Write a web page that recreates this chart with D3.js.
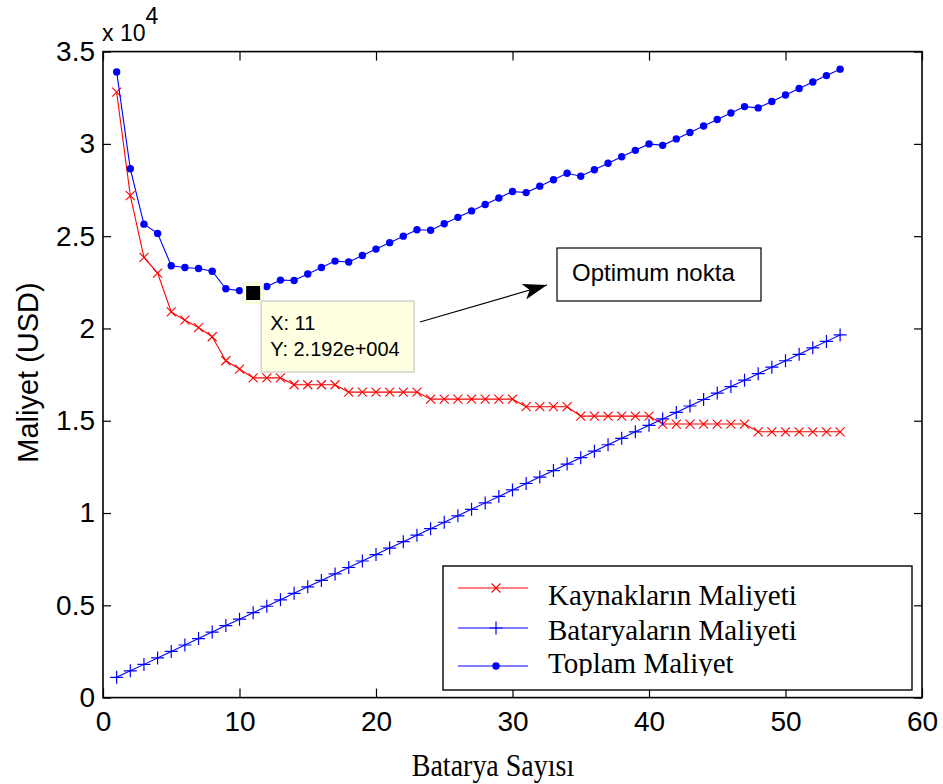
<!DOCTYPE html>
<html>
<head>
<meta charset="utf-8">
<script src="https://cdn.jsdelivr.net/npm/d3@7"></script>
<style>
  html, body { margin: 0; padding: 0; background: #fff; }
  svg { display: block; }
  .sans { font-family: "Liberation Sans", Arial, Helvetica, sans-serif; }
  .serif { font-family: "Liberation Serif", "Times New Roman", serif; }
</style>
</head>
<body>
<svg id="chart" width="943" height="784"></svg>
<script>
// Number of batteries (x axis)
const bataryaSayisi = [
   1,  2,  3,  4,  5,  6,  7,  8,  9, 10, 11, 12, 13, 14, 15, 16, 17, 18,
  19, 20, 21, 22, 23, 24, 25, 26, 27, 28, 29, 30, 31, 32, 33, 34, 35, 36,
  37, 38, 39, 40, 41, 42, 43, 44, 45, 46, 47, 48, 49, 50, 51, 52, 53, 54
];

// Cost of the sources (USD)
const kaynaklarinMaliyeti = [
  32800, 27200, 23850, 23000, 20900, 20450, 20050, 19550, 18250, 17800,
  17320, 17320, 17320, 16950, 16950, 16950, 16950, 16550, 16550, 16550,
  16550, 16550, 16550, 16170, 16170, 16170, 16170, 16170, 16170, 16170,
  15760, 15760, 15760, 15760, 15250, 15250, 15250, 15250, 15250, 15250,
  14820, 14820, 14820, 14820, 14820, 14820, 14820, 14400, 14400, 14400,
  14400, 14400, 14400, 14400
];

// Cost of the batteries (USD)
const bataryalarinMaliyeti = [
   1100,  1450,  1800,  2150,  2500,  2850,  3200,  3550,  3900,  4250,
   4600,  4950,  5300,  5650,  6000,  6350,  6700,  7050,  7400,  7750,
   8100,  8450,  8800,  9150,  9500,  9850, 10200, 10550, 10900, 11250,
  11600, 11950, 12300, 12650, 13000, 13350, 13700, 14050, 14400, 14750,
  15100, 15450, 15800, 16150, 16500, 16850, 17200, 17550, 17900, 18250,
  18600, 18950, 19300, 19650
];

// Total cost (USD)
const toplamMaliyet = [
  33900, 28650, 25650, 25150, 23400, 23300, 23250, 23100, 22150, 22050,
  21920, 22270, 22620, 22600, 22950, 23300, 23650, 23600, 23950, 24300,
  24650, 25000, 25350, 25320, 25670, 26020, 26370, 26720, 27070, 27420,
  27360, 27710, 28060, 28410, 28250, 28600, 28950, 29300, 29650, 30000,
  29920, 30270, 30620, 30970, 31320, 31670, 32020, 31950, 32300, 32650,
  33000, 33350, 33700, 34050
];

const xTicks = [0, 10, 20, 30, 40, 50, 60];
const yTicks = [0, 5000, 10000, 15000, 20000, 25000, 30000, 35000];
const yTickLabels = ["0", "0.5", "1", "1.5", "2", "2.5", "3", "3.5"];

const seriesNames = ["Kaynakların Maliyeti", "Bataryaların Maliyeti", "Toplam Maliyet"];

// Data tip on the optimum point
const optimumX = 11;
const optimumY = 21920;
const optimumLabel = "Optimum nokta";

// ---- layout ----
const svg = d3.select("#chart");
const plot = { left: 103, right: 922, top: 51.6, bottom: 697.6 };

const x = d3.scaleLinear().domain([0, 60]).range([plot.left, plot.right]);
const y = d3.scaleLinear().domain([0, 35000]).range([plot.bottom, plot.top]);

const sans = "sans", serif = "serif";

// white plot area
svg.append("rect")
  .attr("x", plot.left).attr("y", plot.top)
  .attr("width", plot.right - plot.left).attr("height", plot.bottom - plot.top)
  .attr("fill", "#fff");

// axes with inward ticks on all four sides
function styleAxis(g) {
  g.select(".domain").remove();
  g.selectAll(".tick line").attr("stroke", "#000").attr("stroke-width", 1.2);
  g.selectAll(".tick text")
    .attr("class", sans)
    .attr("font-size", 28)
    .attr("fill", "#000");
}

svg.append("g")
  .attr("transform", `translate(0,${plot.bottom})`)
  .call(d3.axisBottom(x).tickValues(xTicks).tickSizeInner(-9).tickSizeOuter(0).tickPadding(14))
  .call(styleAxis)
  .call(g => g.selectAll(".tick text").attr("font-family", "Liberation Sans, Arial, sans-serif"));

svg.append("g")
  .attr("transform", `translate(0,${plot.top})`)
  .call(d3.axisTop(x).tickValues(xTicks).tickSizeInner(-9).tickSizeOuter(0).tickFormat(""))
  .call(styleAxis);

svg.append("g")
  .attr("transform", `translate(${plot.left},0)`)
  .call(d3.axisLeft(y).tickValues(yTicks).tickSizeInner(-8).tickSizeOuter(0).tickPadding(8)
    .tickFormat((d, i) => yTickLabels[i]))
  .call(styleAxis)
  .call(g => g.selectAll(".tick text").attr("font-family", "Liberation Sans, Arial, sans-serif"));

svg.append("g")
  .attr("transform", `translate(${plot.right},0)`)
  .call(d3.axisRight(y).tickValues(yTicks).tickSizeInner(-8).tickSizeOuter(0).tickFormat(""))
  .call(styleAxis);

// ---- series ----
const line = d3.line().x(d => x(d[0])).y(d => y(d[1]));
const pairs = vals => bataryaSayisi.map((n, i) => [n, vals[i]]);

const redPts = pairs(kaynaklarinMaliyeti);
const bluePlusPts = pairs(bataryalarinMaliyeti);
const totalPts = pairs(toplamMaliyet);

const crossPath = "M-4.5,-4.5L4.5,4.5M-4.5,4.5L4.5,-4.5";
const plusPath = "M-6.5,0L6.5,0M0,-6.5L0,6.5";

svg.append("path").datum(redPts)
  .attr("d", line).attr("fill", "none").attr("stroke", "#ff0000").attr("stroke-width", 1.1);
svg.append("g").selectAll("path").data(redPts).join("path")
  .attr("transform", d => `translate(${x(d[0])},${y(d[1])})`)
  .attr("d", crossPath).attr("stroke", "#ff0000").attr("stroke-width", 1.1).attr("fill", "none");

svg.append("path").datum(bluePlusPts)
  .attr("d", line).attr("fill", "none").attr("stroke", "#0000ff").attr("stroke-width", 1.1);
svg.append("g").selectAll("path").data(bluePlusPts).join("path")
  .attr("transform", d => `translate(${x(d[0])},${y(d[1])})`)
  .attr("d", plusPath).attr("stroke", "#0000ff").attr("stroke-width", 1.2).attr("fill", "none");

svg.append("path").datum(totalPts)
  .attr("d", line).attr("fill", "none").attr("stroke", "#0000ff").attr("stroke-width", 1.1);
svg.append("g").selectAll("circle").data(totalPts).join("circle")
  .attr("cx", d => x(d[0])).attr("cy", d => y(d[1])).attr("r", 3.7)
  .attr("fill", "#0000ff");

// ---- plot frame ----
svg.append("rect")
  .attr("x", plot.left).attr("y", plot.top)
  .attr("width", plot.right - plot.left).attr("height", plot.bottom - plot.top)
  .attr("fill", "none").attr("stroke", "#000").attr("stroke-width", 1.6);

// ---- exponent label ----
const expo = svg.append("text").attr("class", sans).attr("font-size", 23).attr("fill", "#000")
  .attr("x", plot.left - 1).attr("y", 40.5);
expo.append("tspan").text("x 10");
expo.append("tspan").attr("dy", -17).text("4");

// ---- axis titles ----
svg.append("text").attr("class", sans).attr("font-size", 29).attr("fill", "#000")
  .attr("text-anchor", "middle")
  .attr("transform", "translate(38,372.5) rotate(-90)")
  .text("Maliyet (USD)");

svg.append("text").attr("class", serif).attr("font-size", 28).attr("fill", "#000")
  .attr("text-anchor", "middle")
  .attr("transform", "translate(493,776) scale(1,1.1)")
  .text("Batarya Sayısı");

// ---- legend ----
const legend = { x: 443, y: 566, w: 469, h: 124 };
svg.append("rect")
  .attr("x", legend.x).attr("y", legend.y).attr("width", legend.w).attr("height", legend.h)
  .attr("fill", "#fff").attr("stroke", "#000").attr("stroke-width", 1.4);

svg.append("clipPath").attr("id", "legendClip")
  .append("rect").attr("x", legend.x).attr("y", legend.y).attr("width", legend.w).attr("height", 110);

const lineRows = [588, 628, 666];
const textRows = [605, 640, 673];
const legColors = ["#ff0000", "#0000ff", "#0000ff"];
const lg = svg.append("g");
seriesNames.forEach((name, i) => {
  const ly = lineRows[i];
  lg.append("line").attr("x1", 458).attr("x2", 528).attr("y1", ly).attr("y2", ly)
    .attr("stroke", legColors[i]).attr("stroke-width", 1.1);
  if (i === 0) {
    lg.append("path").attr("transform", `translate(496,${ly})`).attr("d", crossPath)
      .attr("stroke", "#ff0000").attr("stroke-width", 1.1);
  } else if (i === 1) {
    lg.append("path").attr("transform", `translate(496,${ly})`).attr("d", plusPath)
      .attr("stroke", "#0000ff").attr("stroke-width", 1.2);
  } else {
    lg.append("circle").attr("cx", 496).attr("cy", ly).attr("r", 3.7).attr("fill", "#0000ff");
  }
  lg.append("text").attr("class", serif).attr("font-size", 29).attr("fill", "#000")
    .attr("clip-path", "url(#legendClip)")
    .attr("x", 548).attr("y", textRows[i]).text(name);
});

// ---- data tip at the optimum ----
const ox = x(optimumX), oy = y(optimumY);
svg.append("rect").attr("x", ox - 10).attr("y", oy - 10).attr("width", 20).attr("height", 20)
  .attr("fill", "#ffffe1").attr("stroke", "#f0f0c8").attr("stroke-width", 1);
svg.append("rect").attr("x", ox - 7).attr("y", oy - 7).attr("width", 14).attr("height", 14)
  .attr("fill", "#000");

const tip = { x: ox + 8, y: oy + 8, w: 153, h: 71 };
svg.append("rect").attr("x", tip.x).attr("y", tip.y).attr("width", tip.w).attr("height", tip.h)
  .attr("fill", "#ffffe1").attr("stroke", "#c8c8c8").attr("stroke-width", 1.2);
svg.append("text").attr("class", sans).attr("font-size", 20).attr("fill", "#000")
  .attr("x", tip.x + 9).attr("y", tip.y + 29).text(`X: ${optimumX}`);
svg.append("text").attr("class", sans).attr("font-size", 20).attr("fill", "#000")
  .attr("x", tip.x + 9).attr("y", tip.y + 55)
  .text(`Y: ${(optimumY / 1e4).toFixed(3)}e+004`);

// ---- arrow and annotation box ----
svg.append("defs").append("marker")
  .attr("id", "arrowHead").attr("viewBox", "0 0 24 16")
  .attr("refX", 24).attr("refY", 8)
  .attr("markerWidth", 24).attr("markerHeight", 16)
  .attr("markerUnits", "userSpaceOnUse")
  .attr("orient", "auto")
  .append("path").attr("d", "M0,0L24,8L0,16L6,8Z").attr("fill", "#000");

svg.append("line")
  .attr("x1", 420).attr("y1", 322).attr("x2", 547).attr("y2", 285)
  .attr("stroke", "#000").attr("stroke-width", 1.2)
  .attr("marker-end", "url(#arrowHead)");

svg.append("rect").attr("x", 557).attr("y", 248).attr("width", 204).attr("height", 53)
  .attr("fill", "#fff").attr("stroke", "#000").attr("stroke-width", 1.2);
svg.append("text").attr("class", sans).attr("font-size", 24).attr("fill", "#000")
  .attr("x", 572).attr("y", 281).text(optimumLabel);
</script>
</body>
</html>
